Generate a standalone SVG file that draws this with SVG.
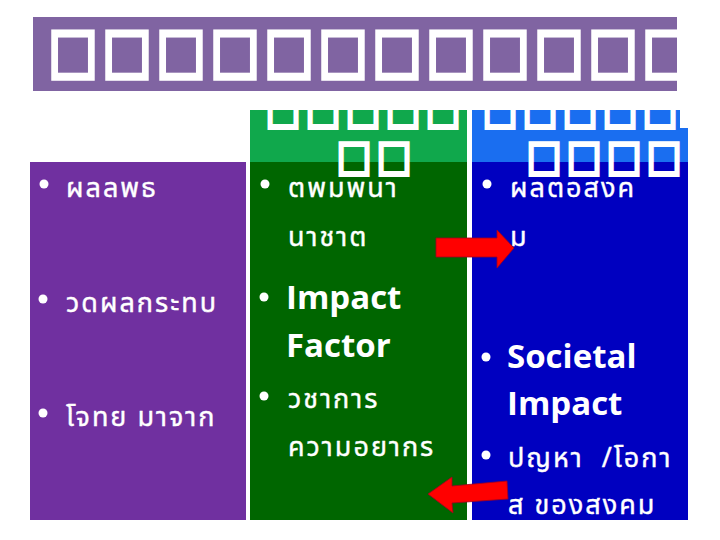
<svg xmlns="http://www.w3.org/2000/svg" width="720" height="540" viewBox="0 0 720 540">
<defs>
<style>
.tofu{font-family:"DejaVu Sans",sans-serif;fill:#fff;stroke:#fff;text-anchor:middle}
.th{font-family:Tahoma,"Noto Sans Thai","Noto Sans","DejaVu Sans",sans-serif;font-size:27px;fill:#fff;letter-spacing:2px;white-space:pre;stroke:#fff;stroke-width:0.4}
.en{font-family:"Open Sans",sans-serif;font-weight:bold;font-size:33px;fill:#fff}
.blt{fill:#fff}
</style>
<clipPath id="tc"><rect x="33" y="17" width="644" height="74"/></clipPath>
</defs>
<rect width="720" height="540" fill="#fff"/>
<g id="title">
<rect x="33" y="17" width="644" height="74" fill="#8064a2"/>
<g clip-path="url(#tc)">
<text class="tofu" transform="scale(0.85,1)" font-size="61" stroke-width="4.5" x="85.9 149.4 212.9 276.5 340 403.5 467.1 530.6 594.1 657.6 721.2 784.7" y="71">□□□□□□□□□□□□</text>
</g>
</g>
<g id="col-purple">
<rect x="30" y="162" width="216" height="358" fill="#7030a0"/>
<circle class="blt" cx="44" cy="184" r="4.5"/>
<text class="th" x="66" y="197">ผลลพธ</text>
<circle class="blt" cx="43" cy="299" r="4.5"/>
<text class="th" x="66" y="312">วดผลกระทบ</text>
<circle class="blt" cx="43" cy="413" r="4.5"/>
<text class="th" x="66" y="426">โจทย มาจาก</text>
</g>
<g id="col-green">
<rect x="250" y="110" width="217" height="52" fill="#10a84c"/>
<rect x="250" y="162" width="217" height="358" fill="#006600"/>
<circle class="blt" cx="265" cy="184" r="4.5"/>
<text class="th" x="288" y="197">ตพมพนา</text>
<text class="th" x="288" y="246">นาชาต</text>
<circle class="blt" cx="264" cy="297" r="4.5"/>
<text class="en" x="286" y="309">Impact</text>
<text class="en" x="286" y="357">Factor</text>
<circle class="blt" cx="264" cy="396" r="4.5"/>
<text class="th" x="288" y="408">วชาการ</text>
<text class="th" x="288" y="456">ความอยากร</text>
</g>
<g id="col-blue">
<rect x="472" y="110" width="208" height="52" fill="#1a6ef0"/>
<rect x="472" y="128" width="216" height="34" fill="#1a6ef0"/>
<rect x="472" y="162" width="216" height="358" fill="#0000c0"/>
<circle class="blt" cx="487" cy="184" r="4.5"/>
<text class="th" x="510" y="197">ผลตอสงค</text>
<text class="th" x="510" y="246">ม</text>
<circle class="blt" cx="486" cy="357" r="4.5"/>
<text class="en" x="507" y="368">Societal</text>
<text class="en" x="507" y="415">Impact</text>
<circle class="blt" cx="486" cy="455" r="4.5"/>
<text class="th" x="508" y="467">ปญหา  /โอกา</text>
<text class="th" x="508" y="514">ส ของสงคม</text>
</g>
<g id="header-tofu">
<text class="tofu" transform="scale(0.87,1)" font-size="42" stroke-width="3.5" x="325.3 371.3 417.2 463.2 509.2 574.7 620.7 666.7 712.6 758.6" y="123">□□□□□□□□□□</text>
<text class="tofu" transform="scale(0.87,1)" font-size="42" stroke-width="3.5" x="406.9 452.9 625.3 671.3 717.2 763.2" y="170">□□□□□□</text>
</g>
<g id="connectors">
<polygon points="436,238 497,238 497,230 514,248 497,268 497,257 436,257" fill="#ff0000" stroke="#a00020" stroke-width="0.8"/>
<polygon points="428,494 452,477 452,486 507,481 508,499 452,503 453,513" fill="#ff0000" stroke="#a00020" stroke-width="0.8"/>
</g>
</svg>
